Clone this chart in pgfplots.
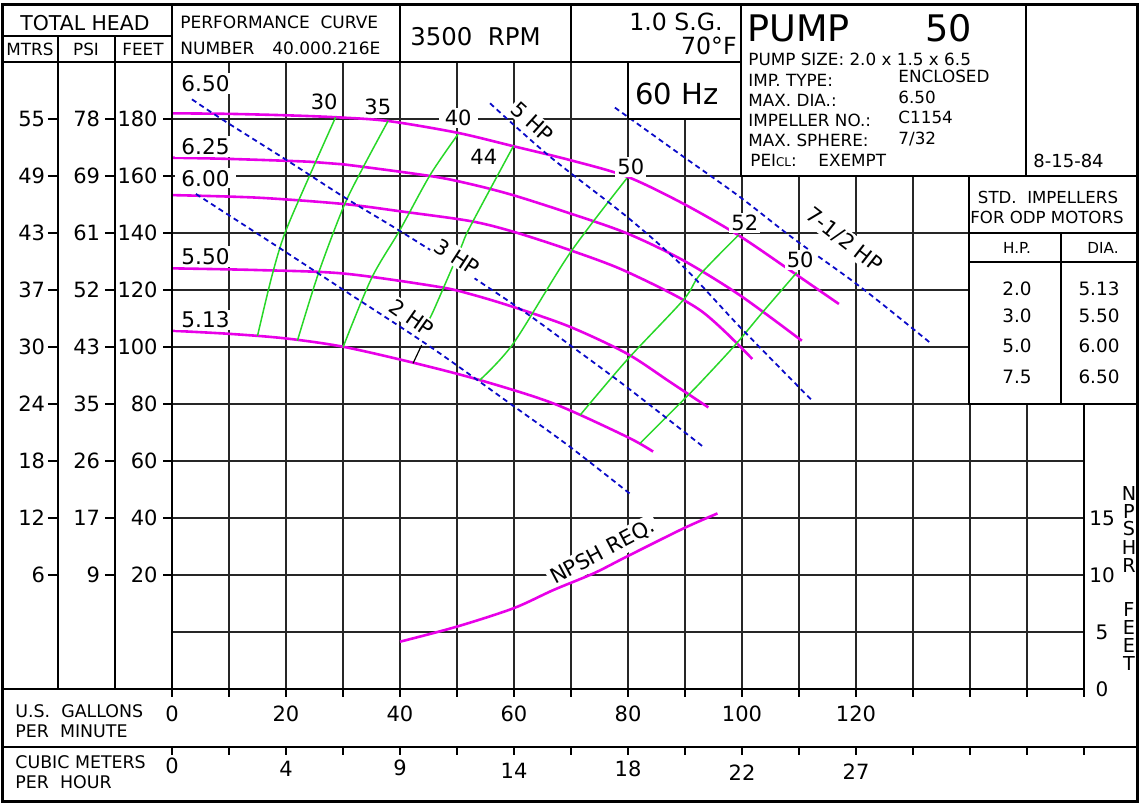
\documentclass[border=0pt]{standalone}
\usepackage{fontspec}
\setmainfont{DejaVu Sans}
\usepackage{pgfplots}
\pgfplotsset{compat=1.18}
\newcommand\fs[1]{\fontsize{#1}{#1}\selectfont}
\definecolor{mag}{RGB}{232,0,232}
\definecolor{grn}{RGB}{40,215,40}
\definecolor{blu}{RGB}{10,10,200}
\tikzset{lbl/.style={fill=white, inner sep=1pt, font=\fs{10.5}},
  dlbl/.style={fill=white, inner xsep=3pt, inner ysep=1pt, anchor=west, font=\fs{10.8}}}
\begin{document}
\begin{tikzpicture}
\path[use as bounding box] (-86pt,-58pt) rectangle (484pt,344.5pt);
\begin{axis}[
  at={(0pt,0pt)}, anchor=south west,
  x=2.85pt, y=1.425pt,
  xmin=0, xmax=160, ymin=-20, ymax=200,
  xtick={0,10,...,160},
  xticklabels={0,,20,,40,,60,,80,,100,,120,,,,},
  ytick={0,20,...,180},
  yticklabels={,20,40,60,80,100,120,140,160,180},
  major tick length=0pt,
  grid=major,
  major grid style={black!85, line width=0.75pt},
  axis line style={black, line width=0.8pt},
  xticklabel style={anchor=center, inner sep=0pt, font=\fs{10.5}},
  xticklabel shift=12.5pt,
  yticklabel style={anchor=east, inner sep=0pt, font=\fs{10.5}},
  yticklabel shift=7pt,
  no markers,
]
% impeller diameter curves
\addplot[mag, line width=1.3pt, smooth] coordinates {(0,182.0) (10,181.8) (20,181.3) (28.9,180.6) (37.9,179.3) (50,175.2) (59.8,170.5) (69.8,165.6) (79.8,159.8) (89.6,150.4) (99.3,139.3) (108,127.5) (117,115.1)};
\addplot[mag, line width=1.3pt, smooth] coordinates {(0,166.4) (10,166.0) (24.2,165.0) (30,164.1) (45.3,160.0) (52.3,157.2) (59.8,153.3) (69.8,146.9) (79.8,139.9) (89.6,130.5) (99.6,118.2) (110.5,102.2)};
\addplot[mag, line width=1.3pt, smooth] coordinates {(0,153.3) (15,152.4) (30,150.2) (40.5,147.5) (52.3,144.2) (59.8,140.5) (69.8,134.0) (79.8,126.4) (92.6,113.0) (101.8,95.8)};
\addplot[mag, line width=1.3pt, smooth] coordinates {(0,127.6) (15,127.0) (30,125.8) (46.5,121.2) (52.3,118.6) (59.8,114.1) (69.8,107.1) (79.8,97.7) (87.4,87.7) (94.1,78.8)};
\addplot[mag, line width=1.3pt, smooth] coordinates {(0,105.7) (10.2,104.6) (20,103.0) (30,100.1) (42.3,94.5) (54,88.4) (66.9,80.2) (79.8,68.5) (84.4,63.3)};
% efficiency lines
\addplot[grn, line width=0.75pt, smooth] coordinates {(28.7,180.6) (24.2,160.4) (19.8,139.9) (17.5,124.7) (15.0,103.9)};
\addplot[grn, line width=0.75pt, smooth] coordinates {(37.9,179.3) (33.6,163.3) (30.1,149.2) (25.7,125.9) (22.0,102.2)};
\addplot[grn, line width=0.75pt, smooth] coordinates {(50.2,174.7) (45.3,160.4) (40,141.1) (35,124.1) (30,99.9)};
\addplot[grn, line width=0.75pt, smooth] coordinates {(59.9,170.5) (52.3,142.2) (50.5,134.0) (45.8,112.4) (44.9,109.2)};
\addplot[grn, line width=0.75pt, smooth] coordinates {(79.8,159.2) (69.8,132.9) (59.9,101.3) (54.0,88.4)};
\addplot[grn, line width=0.75pt, smooth] coordinates {(99.4,139.3) (92.6,125.3) (89.7,116.5) (79.8,95.4) (71.6,76.1)};
\addplot[grn, line width=0.75pt, smooth] coordinates {(109.6,126.1) (103.7,112.4) (98.8,100.7) (92.6,87.3) (89.7,81.4) (82.1,66.2)};
% horsepower lines
\addplot[blu, line width=0.9pt, dash pattern=on 2.6pt off 1.9pt, smooth] coordinates {(4.2,153.7) (19.2,134.3) (30.1,120.0) (45.3,100.1) (59.9,79.3) (69.8,65.0) (80.6,48.1)};
\addplot[blu, line width=0.9pt, dash pattern=on 2.6pt off 1.9pt, smooth] coordinates {(3.5,186.9) (9.0,179.6) (20.1,165.6) (30.1,152.7) (40,140.7) (51.7,125.9) (62.2,111.8) (69.8,100.7) (79.8,85.9) (93.5,64.5)};
\addplot[blu, line width=0.9pt, dash pattern=on 2.6pt off 1.9pt, smooth] coordinates {(55.8,185.5) (66.3,166.8) (79.8,145.7) (89.7,128.2) (99.6,107.1) (112.5,80.8)};
\addplot[blu, line width=0.9pt, dash pattern=on 2.6pt off 1.9pt, smooth] coordinates {(77.7,184.0) (89.7,166.8) (99.6,152.7) (109,138.1) (120.7,121.2) (133,101.5)};
% labels
\node[dlbl] at (0.53,192.5) {6.50};
\node[dlbl] at (0.53,170.4) {6.25};
\node[dlbl] at (0.53,159.2) {6.00};
\node[dlbl] at (0.53,131.7) {5.50};
\node[dlbl] at (0.53,109.5) {5.13};
\node[lbl] at (26.7,186.1) {30};
\node[lbl] at (36.1,184.3) {35};
\node[lbl, inner xsep=3pt] at (50.2,180.4) {40};
\node[lbl] at (54.7,166.8) {44};
\node[lbl] at (80.5,163.3) {50};
\node[lbl] at (100.5,143.4) {52};
\node[lbl] at (110.2,130.5) {50};
\node[lbl, rotate=-42] at (63.2,178.9) {5 HP};
\node[lbl, rotate=-33] at (50,131.6) {3 HP};
\node[lbl, rotate=-35] at (42.1,110.2) {2 HP};
\node[lbl, rotate=-38] at (117.9,137.6) {7-1/2 HP};
\draw[black, line width=0.6pt] (43.8,100.7) -- (42.3,94.3);
\end{axis}
\begin{axis}[
  at={(0pt,0pt)}, anchor=south west,
  x=2.85pt, y=5.7pt,
  xmin=0, xmax=160, ymin=0, ymax=55,
  hide x axis, axis line style={draw=none},
  ytick={0,5,10,15}, yticklabels={0,5,10,15},
  yticklabel pos=right, major tick length=0pt,
  yticklabel style={anchor=center, inner sep=0pt, font=\fs{10}},
  yticklabel shift=9pt,
  no markers,
]
\node[lbl, inner sep=1.5pt, rotate=28] at (75.6,12.0) {NPSH REQ.};
\addplot[mag, line width=1.3pt, smooth] coordinates {(40,4.15) (49.9,5.46) (59.9,7.08) (66.9,8.68) (74,10.15) (79.8,11.62) (89.7,14.08) (95.7,15.4)};
\end{axis}
\begin{scope}[x=0.5pt, y=-0.5pt, shift={(-86pt,344.5pt)}]
\fill[white] (741,5) rectangle (1137,176);
\fill[white] (969,176) rectangle (1137,404);
\fill[white] (628,62) rectangle (741,119);
\draw[line width=1.5pt] (3,5) rectangle (1137,801);
\begin{scope}[line width=0.9pt]
\draw (3,36) -- (172,36);
\draw (3,62) -- (741,62);
\draw (58,36) -- (58,689);
\draw (115,36) -- (115,689);
\draw (172,5) -- (172,689);
\draw (400,5) -- (400,62);
\draw (571,5) -- (571,62);
\draw (741,5) -- (741,176) -- (1137,176);
\draw (1026,5) -- (1026,176);
\draw[line width=1.4pt] (628,62) -- (628,119);
\draw (628,119) -- (741,119);
\draw (969,176) -- (969,404) -- (1137,404);
\draw (969,233) -- (1137,233);
\draw (969,262) -- (1137,262);
\draw (1061,233) -- (1061,404);
\draw (3,689) -- (1083,689);
\draw (3,747) -- (1137,747);
\foreach \i in {0,...,16} {
  \draw ({172+57*\i},689) -- ++(0,8);
  \draw ({172+57*\i},747) -- ++(0,8);
}
\foreach \f/\m/\p in {20/6/9, 40/12/17, 60/18/26, 80/24/35, 100/30/43, 120/37/52, 140/43/61, 160/49/69, 180/55/78} {
  \pgfmathsetmacro\yy{689-(\f+20)*2.85}
  \draw (48,\yy) -- (58,\yy);
  \draw (105,\yy) -- (115,\yy);
  \draw (163,\yy) -- (172,\yy);
  \node[anchor=east, inner sep=0pt, font=\fs{10.5}] at (46,\yy) {\m};
  \node[anchor=east, inner sep=0pt, font=\fs{10.5}] at (101,\yy) {\p};
}
\end{scope}
% header texts
\node[anchor=base, inner sep=0pt, font=\fs{10.2}] at (85,30) {TOTAL HEAD};
\node[anchor=base, inner sep=0pt, font=\fs{8.4}] at (30,56) {MTRS};
\node[anchor=base, inner sep=0pt, font=\fs{8.4}] at (86,56) {PSI};
\node[anchor=base, inner sep=0pt, font=\fs{8.4}] at (143,56) {FEET};
\node[anchor=base west, inner sep=0pt, font=\fs{8.5}] at (180,28) {PERFORMANCE\ \ CURVE};
\node[anchor=base west, inner sep=0pt, font=\fs{8.5}] at (180,55) {NUMBER};
\node[anchor=base west, inner sep=0pt, font=\fs{8.5}] at (272,55) {40.000.216E};
\node[anchor=base west, inner sep=0pt, font=\fs{12.2}] at (410,45) {3500\ \ RPM};
\node[anchor=base east, inner sep=0pt, font=\fs{11.8}] at (723,31) {1.0 S.G.};
\node[anchor=base east, inner sep=0pt, font=\fs{11.8}] at (737,55) {70°F};
\node[anchor=base west, inner sep=0pt, font=\fs{14.5}] at (635,104) {60 Hz};
\node[anchor=base west, inner sep=0pt, font=\fs{18.3}] at (747,42) {PUMP};
\node[anchor=base east, inner sep=0pt, font=\fs{18.3}] at (972,42) {50};
\begin{scope}[every node/.style={anchor=base west, inner sep=0pt, font=\fs{8.4}}]
\node at (748,65) {PUMP SIZE: 2.0 x 1.5 x 6.5};
\node at (748,86) {IMP. TYPE:};
\node at (898,82) {ENCLOSED};
\node at (748,106) {MAX. DIA.:};
\node at (898,103) {6.50};
\node at (748,126) {IMPELLER NO.:};
\node at (898,123) {C1154};
\node at (748,146) {MAX. SPHERE:};
\node at (898,144) {7/32};
\node at (750,166) {PEI{\fs{6}CL}:};
\node at (818,166) {EXEMPT};
\node[font=\fs{9}] at (1033,167) {8-15-84};
\end{scope}
% impeller table
\node[anchor=base, inner sep=0pt, font=\fs{8.3}] at (1048,203) {STD.\ \ IMPELLERS};
\node[anchor=base, inner sep=0pt, font=\fs{8.3}] at (1047,223) {FOR ODP MOTORS};
\node[anchor=base, inner sep=0pt, font=\fs{7.6}] at (1017,253) {H.P.};
\node[anchor=base, inner sep=0pt, font=\fs{7.6}] at (1103,253) {DIA.};
\foreach \h/\d/\yy in {2.0/5.13/295, 3.0/5.50/322, 5.0/6.00/352, 7.5/6.50/383} {
  \node[anchor=base, inner sep=0pt, font=\fs{9.2}] at (1017,\yy) {\h};
  \node[anchor=base, inner sep=0pt, font=\fs{9.2}] at (1099,\yy) {\d};
}
% bottom rows
\node[anchor=base west, inner sep=0pt, font=\fs{8.7}] at (15,717) {U.S.\ \ GALLONS};
\node[anchor=base west, inner sep=0pt, font=\fs{8.7}] at (15,737) {PER\ \ MINUTE};
\node[anchor=base west, inner sep=0pt, font=\fs{8.7}] at (15,768) {CUBIC METERS};
\node[anchor=base west, inner sep=0pt, font=\fs{8.7}] at (15,788) {PER\ \ HOUR};
\foreach \g/\c/\yy in {0/0/766, 20/4/769, 40/9/768, 60/14/771, 80/18/769, 100/22/773, 120/27/772} {
  \node[inner sep=0pt, font=\fs{10.5}] at ({172+5.7*\g},\yy) {\c};
}
% NPSHR FEET vertical label
\foreach \l/\yy in {N/493, P/511, S/529, H/547, R/565, F/609, E/627, E/645, T/663} {
  \node[inner sep=0pt, font=\fs{9.6}] at (1129,\yy) {\l};
}
\end{scope}
\end{tikzpicture}
\end{document}
